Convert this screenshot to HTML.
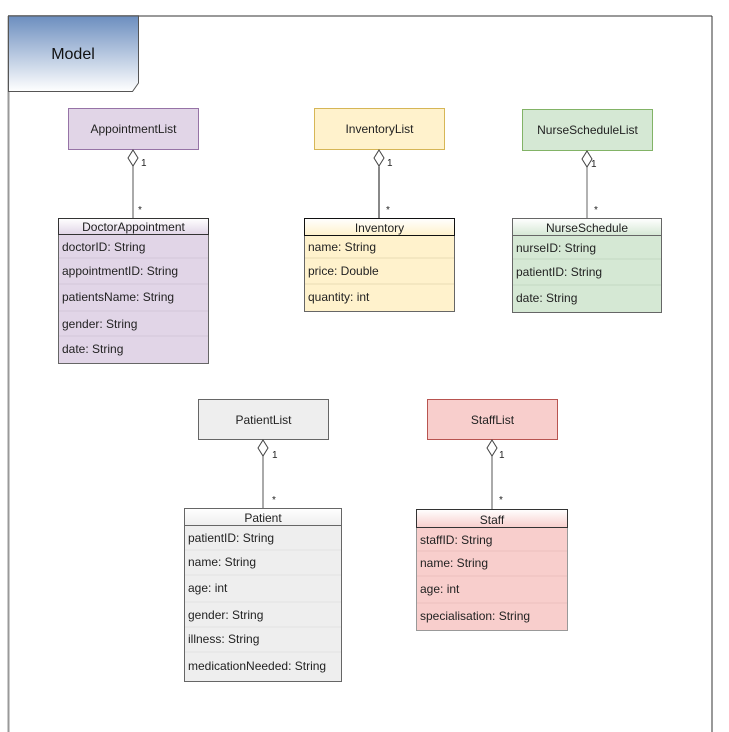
<!DOCTYPE html>
<html><head><meta charset="utf-8"><style>
html,body{margin:0;padding:0;background:#fff;}
svg{display:block;font-family:"Liberation Sans",sans-serif;}
</style></head><body>
<svg width="729" height="732" viewBox="0 0 729 732" xmlns="http://www.w3.org/2000/svg">
<defs>
<linearGradient id="tab" x1="0" y1="0" x2="0" y2="1"><stop offset="0" stop-color="#6c8ebf"/><stop offset="1" stop-color="#ffffff"/></linearGradient>
<linearGradient id="hp" x1="0" y1="0" x2="0" y2="1"><stop offset="0" stop-color="#fff"/><stop offset="1" stop-color="#e1d5e7"/></linearGradient>
<linearGradient id="hy" x1="0" y1="0" x2="0" y2="1"><stop offset="0" stop-color="#fff"/><stop offset="1" stop-color="#fff2cc"/></linearGradient>
<linearGradient id="hg" x1="0" y1="0" x2="0" y2="1"><stop offset="0" stop-color="#fff"/><stop offset="1" stop-color="#d5e8d4"/></linearGradient>
<linearGradient id="hw" x1="0" y1="0" x2="0" y2="1"><stop offset="0" stop-color="#fff"/><stop offset="1" stop-color="#eeeeee"/></linearGradient>
<linearGradient id="hr" x1="0" y1="0" x2="0" y2="1"><stop offset="0" stop-color="#fff"/><stop offset="1" stop-color="#f8cecc"/></linearGradient>
</defs>
<!-- frame -->
<line x1="8" y1="16" x2="712" y2="16" stroke="#999" stroke-width="2"/>
<line x1="8.5" y1="16" x2="8.5" y2="732" stroke="#999" stroke-width="2"/>
<line x1="712" y1="16" x2="712" y2="732" stroke="#333" stroke-width="1"/>
<path d="M8.5 16 H138.5 V83 L132.5 91.5 H8.5 Z" fill="url(#tab)" stroke="#555" stroke-width="1"/>
<text x="73" y="59" font-size="16" text-anchor="middle" fill="#111">Model</text>

<g font-size="12" fill="#222">
<!-- AppointmentList -->
<rect x="68.5" y="108.5" width="130" height="41" fill="#e1d5e7" stroke="#9673a6"/>
<text x="133.5" y="133" text-anchor="middle">AppointmentList</text>
<line x1="133" y1="166" x2="133" y2="218" stroke="#555"/>
<path d="M133 150 L138 158 L133 166 L128 158 Z" fill="#fff" stroke="#444"/>
<text x="141" y="166" font-size="10">1</text>
<text x="138" y="213" font-size="10">*</text>
<rect x="58.5" y="218.5" width="150" height="145" fill="#e1d5e7" stroke="#666"/>
<rect x="58.5" y="218.5" width="150" height="16" fill="url(#hp)" stroke="#333"/>
<text x="133.5" y="231" text-anchor="middle">DoctorAppointment</text>
<g stroke="#d4c8da"><line x1="59" y1="258" x2="208" y2="258"/><line x1="59" y1="284" x2="208" y2="284"/><line x1="59" y1="311" x2="208" y2="311"/><line x1="59" y1="336" x2="208" y2="336"/></g>
<text x="62" y="251">doctorID: String</text>
<text x="62" y="275">appointmentID: String</text>
<text x="62" y="301">patientsName: String</text>
<text x="62" y="328">gender: String</text>
<text x="62" y="353">date: String</text>

<!-- InventoryList -->
<rect x="314.5" y="108.5" width="130" height="41" fill="#fff2cc" stroke="#d6b656"/>
<text x="379.5" y="133" text-anchor="middle">InventoryList</text>
<line x1="379" y1="166" x2="379" y2="218" stroke="#111"/>
<path d="M379 150 L384 158 L379 166 L374 158 Z" fill="#fff" stroke="#444"/>
<text x="387" y="166" font-size="10">1</text>
<text x="386" y="213" font-size="10">*</text>
<rect x="304.5" y="218.5" width="150" height="93" fill="#fff2cc" stroke="#666"/>
<rect x="304.5" y="218.5" width="150" height="17" fill="url(#hy)" stroke="#111"/>
<text x="379.5" y="232" text-anchor="middle">Inventory</text>
<g stroke="#e8dcb4"><line x1="305" y1="258" x2="454" y2="258"/><line x1="305" y1="284" x2="454" y2="284"/></g>
<text x="308" y="251">name: String</text>
<text x="308" y="275">price: Double</text>
<text x="308" y="301">quantity: int</text>

<!-- NurseScheduleList -->
<rect x="522.5" y="109.5" width="130" height="41" fill="#d5e8d4" stroke="#82b366"/>
<text x="587.5" y="134" text-anchor="middle">NurseScheduleList</text>
<line x1="587" y1="167" x2="587" y2="219" stroke="#666"/>
<path d="M587 151 L592 159 L587 167 L582 159 Z" fill="#fff" stroke="#444"/>
<text x="591" y="167" font-size="10">1</text>
<text x="594" y="213" font-size="10">*</text>
<rect x="512.5" y="218.5" width="149" height="94" fill="#d5e8d4" stroke="#666"/>
<rect x="512.5" y="218.5" width="149" height="17" fill="url(#hg)" stroke="#666"/>
<text x="587" y="232" text-anchor="middle">NurseSchedule</text>
<g stroke="#c4d8c2"><line x1="513" y1="259" x2="661" y2="259"/><line x1="513" y1="285" x2="661" y2="285"/></g>
<text x="516" y="252">nurseID: String</text>
<text x="516" y="276">patientID: String</text>
<text x="516" y="302">date: String</text>

<!-- PatientList -->
<rect x="198.5" y="399.5" width="130" height="40" fill="#eeeeee" stroke="#666"/>
<text x="263.5" y="424" text-anchor="middle">PatientList</text>
<line x1="263" y1="456" x2="263" y2="508" stroke="#555"/>
<path d="M263 440 L268 448 L263 456 L258 448 Z" fill="#fff" stroke="#444"/>
<text x="272" y="458" font-size="10">1</text>
<text x="272" y="503" font-size="10">*</text>
<rect x="184.5" y="508.5" width="157" height="173" fill="#eeeeee" stroke="#666"/>
<rect x="184.5" y="508.5" width="157" height="17" fill="url(#hw)" stroke="#666"/>
<text x="263" y="522" text-anchor="middle">Patient</text>
<g stroke="#e2e2e2"><line x1="185" y1="550" x2="341" y2="550"/><line x1="185" y1="575" x2="341" y2="575"/><line x1="185" y1="602" x2="341" y2="602"/><line x1="185" y1="627" x2="341" y2="627"/><line x1="185" y1="652" x2="341" y2="652"/></g>
<text x="188" y="542">patientID: String</text>
<text x="188" y="566">name: String</text>
<text x="188" y="592">age: int</text>
<text x="188" y="619">gender: String</text>
<text x="188" y="643">illness: String</text>
<text x="188" y="670">medicationNeeded: String</text>

<!-- StaffList -->
<rect x="427.5" y="399.5" width="130" height="40" fill="#f8cecc" stroke="#b85450"/>
<text x="492.5" y="424" text-anchor="middle">StaffList</text>
<line x1="492" y1="456" x2="492" y2="509" stroke="#555"/>
<path d="M492 440 L497 448 L492 456 L487 448 Z" fill="#fff" stroke="#444"/>
<text x="499" y="458" font-size="10">1</text>
<text x="499" y="503" font-size="10">*</text>
<rect x="416.5" y="509.5" width="151" height="121" fill="#f8cecc" stroke="#999"/>
<rect x="416.5" y="509.5" width="151" height="18" fill="url(#hr)" stroke="#333"/>
<text x="492" y="524" text-anchor="middle">Staff</text>
<g stroke="#ecc0be"><line x1="417" y1="551" x2="567" y2="551"/><line x1="417" y1="576" x2="567" y2="576"/><line x1="417" y1="603" x2="567" y2="603"/></g>
<text x="420" y="544">staffID: String</text>
<text x="420" y="567">name: String</text>
<text x="420" y="593">age: int</text>
<text x="420" y="620">specialisation: String</text>
</g>
</svg>
</body></html>
